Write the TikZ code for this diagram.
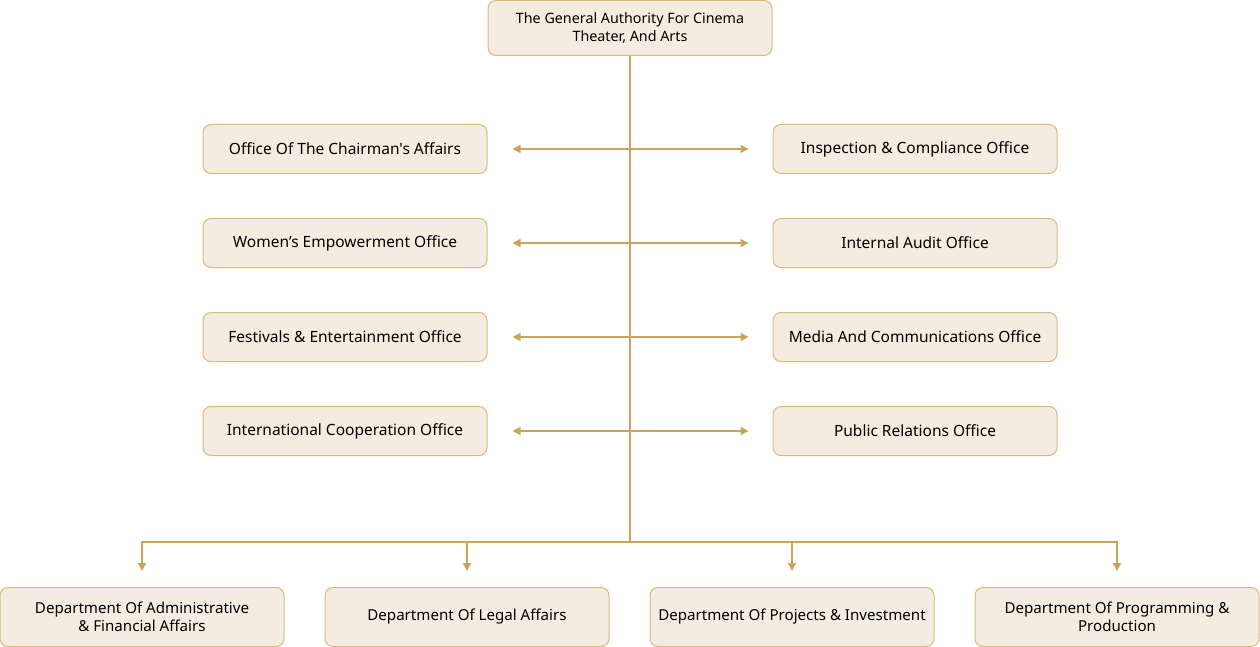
\documentclass[tikz,border=0pt]{standalone}
\usepackage{fontspec}
\setmainfont{Noto Sans}[Ligatures=TeXOff]
\usetikzlibrary{arrows.meta}
\definecolor{boxfill}{RGB}{244,236,225}
\definecolor{boxline}{RGB}{217,186,122}
\definecolor{linkline}{RGB}{201,165,92}
\tikzset{
  office/.style={draw=boxline, fill=boxfill, line width=1pt, rounded corners=8pt,
    minimum width=284pt, minimum height=49pt, align=center, inner sep=2pt,
    font=\fontsize{15.5}{18}\selectfont},
  dept/.style={office, minimum height=59pt, font=\fontsize{15.1}{18}\selectfont},
  link/.style={draw=linkline, line width=1.5pt},
  tip/.style={-{Triangle[length=8pt,width=8pt]}}
}
\begin{document}
\begin{tikzpicture}[x=1pt,y=1pt,yscale=-1,xscale=1]
\useasboundingbox (0,0) rectangle (1260,647);

% Head
\node[office, minimum height=55pt, font=\fontsize{14.3}{17.5}\selectfont] (head) at (630,28) {The General Authority For Cinema\\Theater, And Arts};

% Offices, left and right
\node[office] (chair) at (345,149) {Office Of The Chairman's Affairs};
\node[office] (women) at (345,243) {Women’s Empowerment Office};
\node[office] (fest) at (345,337) {Festivals \& Entertainment Office};
\node[office] (coop) at (345,431) {International Cooperation Office};
\node[office] (insp) at (915,149) {Inspection \& Compliance Office};
\node[office] (audit) at (915,243) {Internal Audit Office};
\node[office] (media) at (915,337) {Media And Communications Office};
\node[office] (pr) at (915,431) {Public Relations Office};

% Departments
\node[dept] (admin) at (142,617) {Department Of Administrative\\\& Financial Affairs};
\node[dept] (legal) at (467,617) {Department Of Legal Affairs};
\node[dept] (proj) at (792,617) {Department Of Projects \& Investment};
\node[dept] (prog) at (1117,617) {Department Of Programming \&\\Production};

% Trunk
\coordinate (split) at (630,542);
\draw[link] (head.south) -- (split);

% Office links
\foreach \l/\r in {chair/insp, women/audit, fest/media, coop/pr}
  \draw[link, {Triangle[length=8pt,width=8pt]}-{Triangle[length=8pt,width=8pt]}, shorten <=25pt, shorten >=24pt] (\l.east) -- (\r.west);

% Department links
\foreach \d in {admin, legal, proj, prog}
  \draw[link, tip, shorten >=16pt] (split) -| (\d.north);

\end{tikzpicture}
\end{document}
